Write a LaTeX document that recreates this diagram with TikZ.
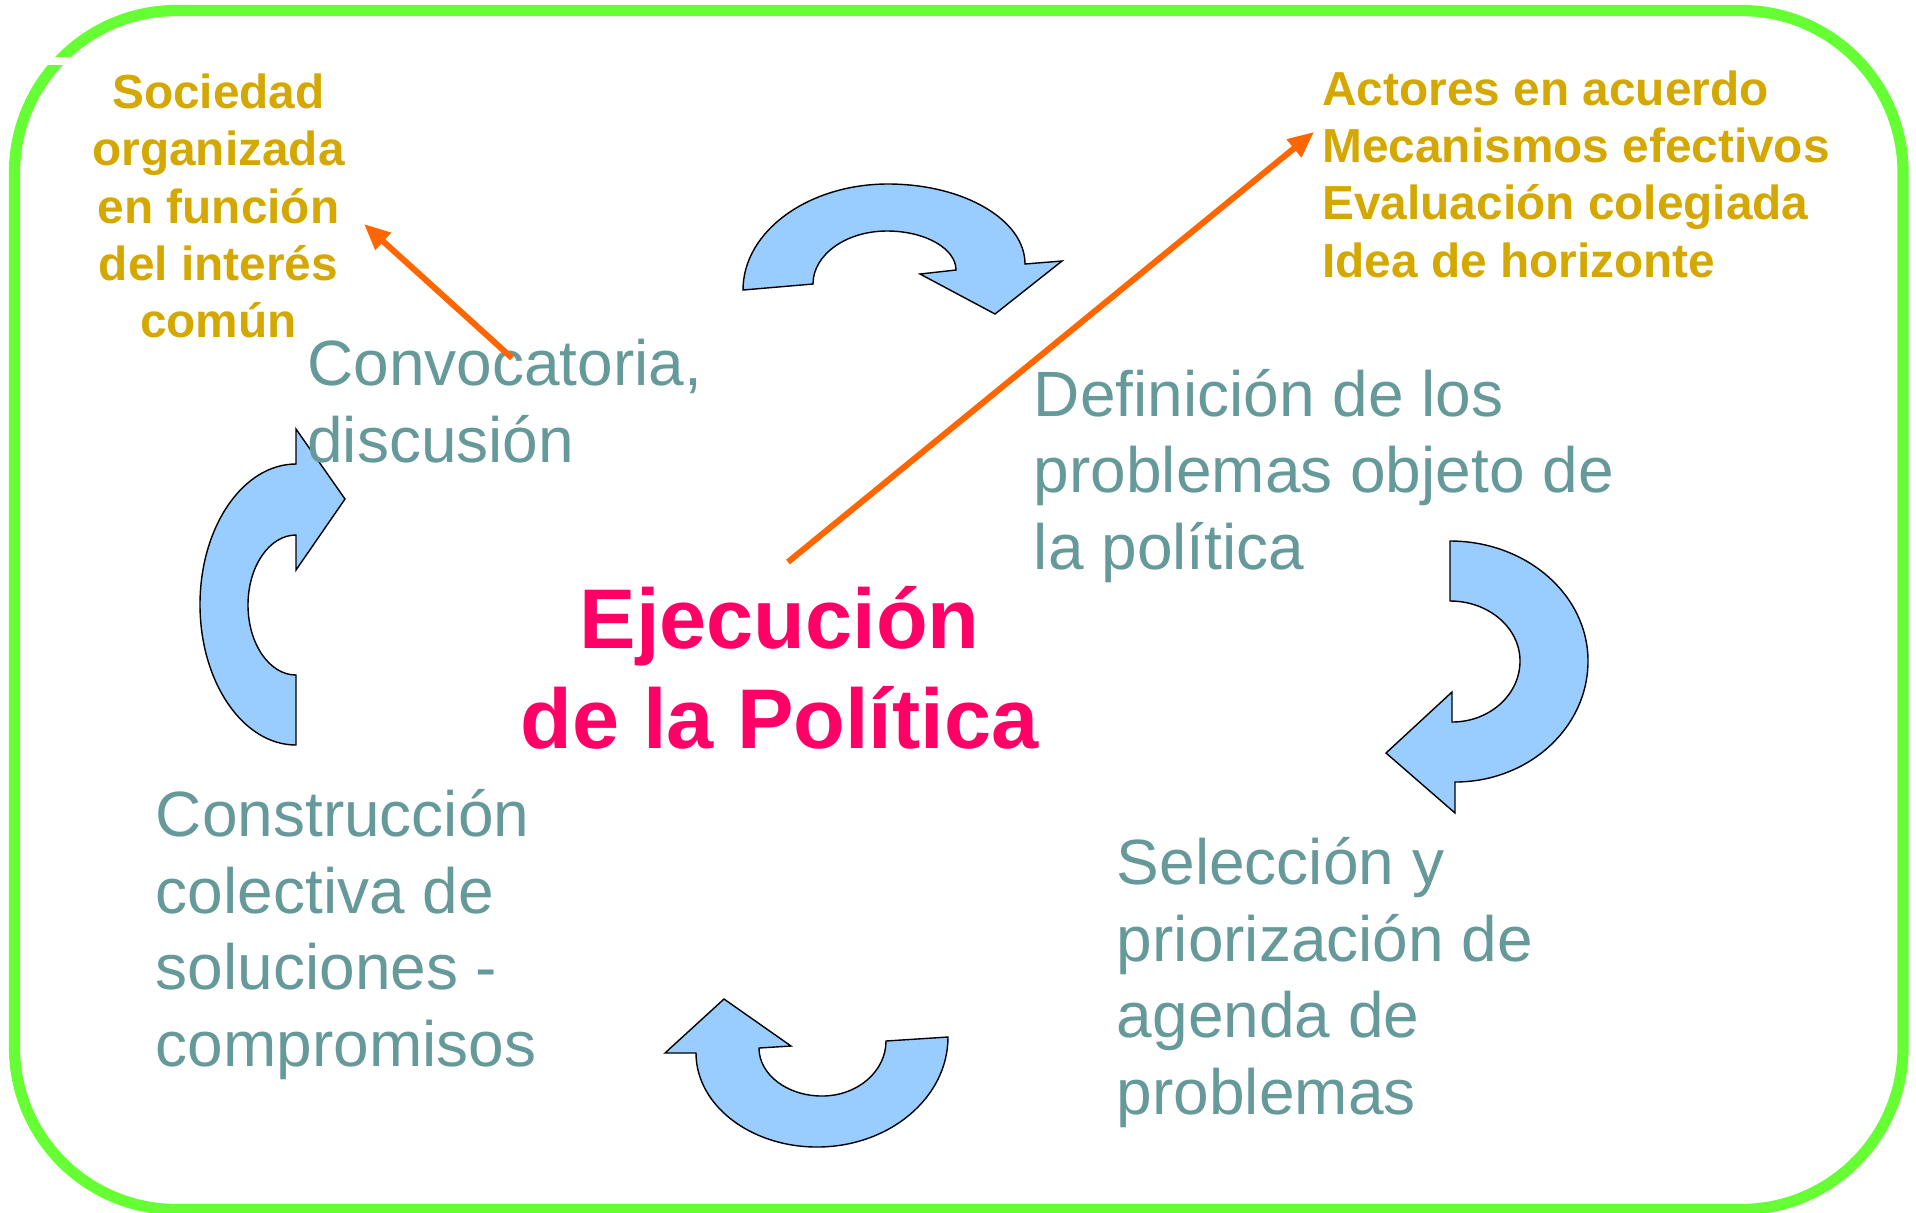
\documentclass[tikz,border=0pt]{standalone}
\usepackage{fontspec}
\setmainfont{Liberation Sans}
\usetikzlibrary{arrows.meta}
\definecolor{bordergreen}{HTML}{66FF33}
\definecolor{goldtxt}{HTML}{D4A800}
\definecolor{tealtxt}{HTML}{669999}
\definecolor{titlepink}{HTML}{FF0066}
\definecolor{arroworange}{HTML}{FF6600}
\definecolor{cyclefill}{HTML}{99CCFF}
\begin{document}
\begin{tikzpicture}[x=0.5pt,y=-0.5pt,
  stagetext/.style={inner sep=0pt, anchor=base west, align=left, text=tealtxt,
    font=\fontsize{32pt}{38.2pt}\selectfont},
  goaltext/.style={inner sep=0pt, text=goldtxt,
    font=\bfseries\fontsize{23.9pt}{28.65pt}\selectfont},
  titletext/.style={inner sep=0pt, anchor=base, align=center, text=titlepink,
    font=\bfseries\fontsize{42.35pt}{49.75pt}\selectfont},
  cyclearrow/.style={fill=cyclefill, draw=black, line width=0.7pt, line join=miter},
  pointer/.style={draw=arroworange, line width=3pt, -{Triangle[length=13pt,width=11pt]}},
  frame/.style={draw=bordergreen, line width=5.6pt, rounded corners=81pt}
]
\useasboundingbox (0,0) rectangle (1916,1212);
\fill[white] (0,0) rectangle (1916,1212);
% outer frame
\draw[frame] (14.5,10.5) rectangle (1903,1209.5);
\fill[white] (40,57) rectangle (80,64.5);

% curved cycle arrows
\draw[cyclearrow] (743,290) .. controls (743,231.5) and (808,184) .. (888,184)
  .. controls (963.6,184) and (1025,219.8) .. (1025,264) -- (1062,261) -- (995,314)
  -- (920,274) -- (956,270) .. controls (956,248.5) and (925,231) .. (887,231)
  .. controls (846,231) and (813,254.7) .. (813,284) -- cycle;
\draw[cyclearrow] (1450,541) .. controls (1526.2,541) and (1588,594.7) .. (1588,661)
  .. controls (1588,727.8) and (1528.5,782) .. (1455,782) -- (1455,813) -- (1386,753)
  -- (1452,692) -- (1452,722) .. controls (1489.6,722) and (1520,694.7) .. (1520,661)
  .. controls (1520,627.9) and (1488.7,601) .. (1450,601) -- cycle;
\draw[cyclearrow] (948,1037) .. controls (948,1097.7) and (889.3,1147) .. (817,1147)
  .. controls (750.2,1147) and (696,1104.9) .. (696,1053) -- (665,1053) -- (724,999)
  -- (791,1046) -- (759,1048) .. controls (759,1074.5) and (787.2,1096) .. (822,1096)
  .. controls (857.3,1096) and (886,1071.4) .. (886,1041) -- cycle;
\draw[cyclearrow] (296,464) .. controls (243,464) and (200,526.9) .. (200,604.5)
  .. controls (200,682.1) and (243,745) .. (296,745) -- (296,675)
  .. controls (269.5,675) and (248,643.7) .. (248,605)
  .. controls (248,566.3) and (269.5,535) .. (296,535) -- (296,570) -- (345,499)
  -- (296,429) -- cycle;

% texts (anchor = baseline of the last line)
\node[goaltext, anchor=base, align=center] (sociedad) at (218.5,337.7)
  {Sociedad\\organizada\\en función\\del interés\\común};
\node[goaltext, anchor=base west, align=left] (actores) at (1322,277)
  {Actores en acuerdo\\Mecanismos efectivos\\Evaluación colegiada\\Idea de horizonte};
\node[stagetext] (convoca) at (307,462) {Convocatoria,\\discusión};
\node[stagetext] (definic) at (1033.5,569) {Definición de los\\problemas objeto de\\la política};
\node[stagetext] (seleccion) at (1116.5,1114) {Selección y\\priorización de\\agenda de\\problemas};
\node[stagetext] (construc) at (155.5,1066) {Construcción\\colectiva de\\soluciones -\\compromisos};
\node[titletext] (titulo) at (779.6,748) {Ejecución\\de la Política};

% orange pointers
\coordinate (p1s) at (512,358);
\coordinate (p1e) at (364,224);
\coordinate (p2s) at (788,562);
\coordinate (p2e) at (1314,132);
\draw[pointer] (p1s) -- (p1e);
\draw[pointer] (p2s) -- (p2e);
\end{tikzpicture}
\end{document}
